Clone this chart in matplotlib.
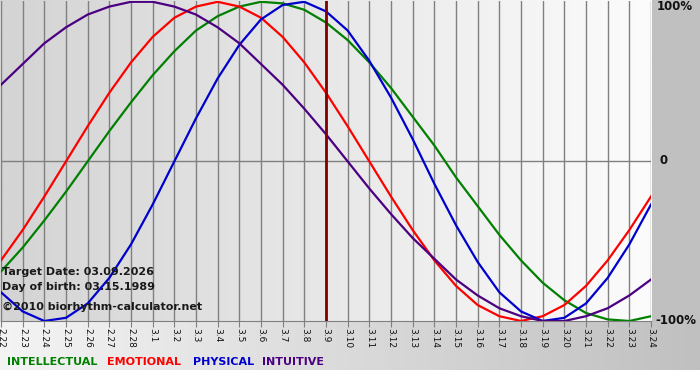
import numpy as np
import matplotlib.pyplot as plt
from matplotlib.colors import LinearSegmentedColormap
from matplotlib.patches import Rectangle

days = ['2.22', '2.23', '2.24', '2.25', '2.26', '2.27', '2.28',
        '3.1', '3.2', '3.3', '3.4', '3.5', '3.6', '3.7', '3.8', '3.9',
        '3.10', '3.11', '3.12', '3.13', '3.14', '3.15', '3.16', '3.17',
        '3.18', '3.19', '3.20', '3.21', '3.22', '3.23', '3.24']

intellectual = [-0.69, -0.54, -0.37, -0.19, 0.00, 0.19, 0.37, 0.54, 0.69, 0.82,
                0.91, 0.97, 1.00, 0.99, 0.95, 0.87, 0.76, 0.62, 0.46, 0.28,
                0.10, -0.10, -0.28, -0.46, -0.62, -0.76, -0.87, -0.95, -0.99, -1.00,
                -0.97]
emotional = [-0.62, -0.43, -0.22, 0.00, 0.22, 0.43, 0.62, 0.78, 0.90, 0.97,
             1.00, 0.97, 0.90, 0.78, 0.62, 0.43, 0.22, 0.00, -0.22, -0.43,
             -0.62, -0.78, -0.90, -0.97, -1.00, -0.97, -0.90, -0.78, -0.62, -0.43,
             -0.22]
physical = [-0.82, -0.94, -1.00, -0.98, -0.89, -0.73, -0.52, -0.27, 0.00, 0.27,
            0.52, 0.73, 0.89, 0.98, 1.00, 0.94, 0.82, 0.63, 0.40, 0.14,
            -0.14, -0.40, -0.63, -0.82, -0.94, -1.00, -0.98, -0.89, -0.73, -0.52,
            -0.27]
intuitive = [0.48, 0.61, 0.74, 0.84, 0.92, 0.97, 1.00, 1.00, 0.97, 0.92,
             0.84, 0.74, 0.61, 0.48, 0.33, 0.17, 0.00, -0.17, -0.33, -0.48,
             -0.61, -0.74, -0.84, -0.92, -0.97, -1.00, -1.00, -0.97, -0.92, -0.84,
             -0.74]

target_day = '3.9'
info_lines = ['Target Date: 03.09.2026', 'Day of birth: 03.15.1989',
              '\u00a92010 biorhythm-calculator.net']

series = [('INTELLECTUAL', intellectual, '#008000'),
          ('EMOTIONAL', emotional, '#ff0000'),
          ('PHYSICAL', physical, '#0000cc'),
          ('INTUITIVE', intuitive, '#4b0082')]

fig = plt.figure(figsize=(7, 3.8), dpi=100)

# background in pixel coordinates
bg = fig.add_axes([0, 0, 1, 1])
grad = np.linspace(0, 1, 256).reshape(1, -1)
bg.imshow(grad, extent=(0, 652, 322, 0), aspect='auto',
          cmap=LinearSegmentedColormap.from_list('plot', ['#d4d4d4', '#fcfcfc']))
bg.imshow(grad, extent=(0, 700, 370, 322), aspect='auto',
          cmap=LinearSegmentedColormap.from_list('band', ['#f4f4f4', '#c0c0c0']))
bg.add_patch(Rectangle((652, 0), 48, 322, color='#c0c0c0', lw=0))
bg.set_xlim(0, 700)
bg.set_ylim(380, 0)
bg.axis('off')

ax = fig.add_axes([1 / 700, 59 / 380, 650 / 700, 320 / 380])
ax.patch.set_alpha(0)
x = np.arange(len(days))

for i in x:
    ax.axvline(i, color='#808080', lw=1, zorder=1)
ax.axhline(0, color='#808080', lw=1, zorder=1)

for name, vals, col in series:
    ax.plot(x, vals, color=col, lw=1.6, zorder=3)

ax.axvline(days.index(target_day), color='#800000', lw=2, zorder=4)

ax.set_xlim(0, len(days) - 1)
ax.set_ylim(-1, 1.005)
ax.set_yticks([])
ax.set_xticks(x)
ax.set_xticklabels(days, rotation=-90, fontsize=6.5, color='#111111')
ax.tick_params(axis='x', length=4, color='#808080', pad=1)
for s in ['top', 'left', 'right']:
    ax.spines[s].set_visible(False)
ax.spines['bottom'].set_color('#808080')
ax.spines['bottom'].set_zorder(2)

# right side percent labels
for lab, xx, y in [('100%', 657, 7), ('0', 659, 161), ('-100%', 655, 321)]:
    ax.text(xx, y, lab, transform=bg.transData,
            fontsize=8.5, fontweight='bold', color='#111111', va='center', ha='left')

# info text
for txt, y in zip(info_lines, [272, 287, 307]):
    ax.text(2, y, txt, transform=bg.transData, fontsize=8, fontweight='bold',
            color='#1a1a1a', va='center', ha='left', zorder=6)

# legend
for (name, vals, col), xx in zip(series, [7, 107, 193, 262]):
    ax.text(xx, 362, name, transform=bg.transData, fontsize=8,
            fontweight='bold', color=col, va='center', ha='left')

fig.savefig('out.png', dpi=100)
